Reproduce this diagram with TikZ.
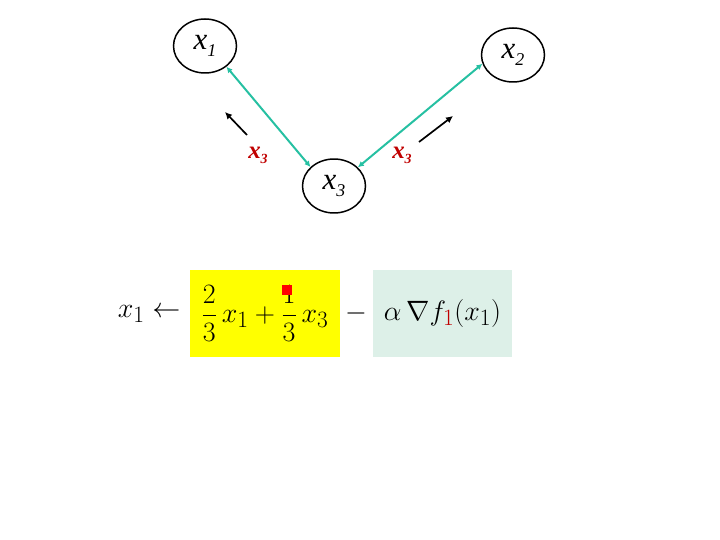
\documentclass[tikz,border=0pt]{standalone}
\usepackage{fontspec}
\setmainfont{Liberation Serif}
\usepackage{amsmath}
\usepackage{graphicx}
\usepackage{tikz}
\usetikzlibrary{arrows.meta, shapes.geometric}
\definecolor{edgeteal}{HTML}{26C0A2}
\definecolor{lblred}{HTML}{C00000}
\definecolor{gradgreen}{HTML}{DDF0E8}
\definecolor{hiyellow}{HTML}{FFFF00}
\newcommand{\vname}[2]{\textit{x}\raisebox{-0.45ex}{\fontsize{#2}{#2}\selectfont\textit{#1}}}
\newcommand{\bigeq}[1]{\scalebox{1.13}{#1}}

\begin{document}
\begin{tikzpicture}[
    x=1bp, y=-1bp,
    vnode/.style = {draw, ellipse, line width=1.5pt,
                    minimum width=63bp, minimum height=54bp,
                    inner sep=0pt, font=\fontsize{31}{33}\selectfont},
    edge/.style  = {{Latex[length=6pt,width=6pt]}-{Latex[length=6pt,width=6pt]},
                    line width=2pt, color=edgeteal},
    push/.style  = {-{Latex[length=7pt,width=7pt]}, line width=1.7pt},
    msg/.style   = {text=lblred, font=\fontsize{25}{27}\selectfont\bfseries},
    hbox/.style  = {minimum height=87bp, inner sep=0pt},
    eq/.style    = {font=\fontsize{24.88}{28}\selectfont}
  ]
  \useasboundingbox (0,0) rectangle (720,540);

  %% network
  \node[vnode] (x1) at (205,46)  {\vname{1}{18}};
  \node[vnode] (x2) at (513,55)  {\vname{2}{18}};
  \node[vnode] (x3) at (334,186) {\vname{3}{18}};

  \draw[edge] (x3.141) -- (x1.-44);
  \draw[edge] (x3.38)  -- (x2.196);

  %% messages
  \coordinate (pl0) at (247,135);
  \coordinate (pl1) at (225,112);
  \coordinate (pr0) at (419,142);
  \coordinate (pr1) at (453,116);
  \draw[push] (pl0) -- (pl1);
  \draw[push] (pr0) -- (pr1);
  \node[msg] (m1) at (258,155) {\textit{x}\raisebox{-0.45ex}{\fontsize{14}{14}\selectfont\textit{3}}};
  \node[msg] (m2) at (402,155) {\textit{x}\raisebox{-0.45ex}{\fontsize{14}{14}\selectfont\textit{3}}};

  %% update rule
  \node[hbox, fill=hiyellow, minimum width=150bp] (avg) at (265,313.5) {};
  \node[hbox, fill=gradgreen, minimum width=139bp] (grad) at (442.5,313.5) {};
  \node[eq, anchor=east] (lhs) at (184,314) {\bigeq{$x_1 \leftarrow$}};
  \node[eq] (avgtxt) at (avg) {\bigeq{$\dfrac{2}{3}\,x_1 + \dfrac{1}{3}\,x_3$}};
  \node[eq] (minus) at (356,313) {\bigeq{$-$}};
  \node[eq] (gradtxt) at (grad) {\bigeq{$\alpha\,\nabla f_{\textcolor{lblred}{1}}(x_1)$}};
  \node[fill=red, minimum size=10bp, inner sep=0pt] (mark) at (287,290) {};

\end{tikzpicture}
\end{document}
